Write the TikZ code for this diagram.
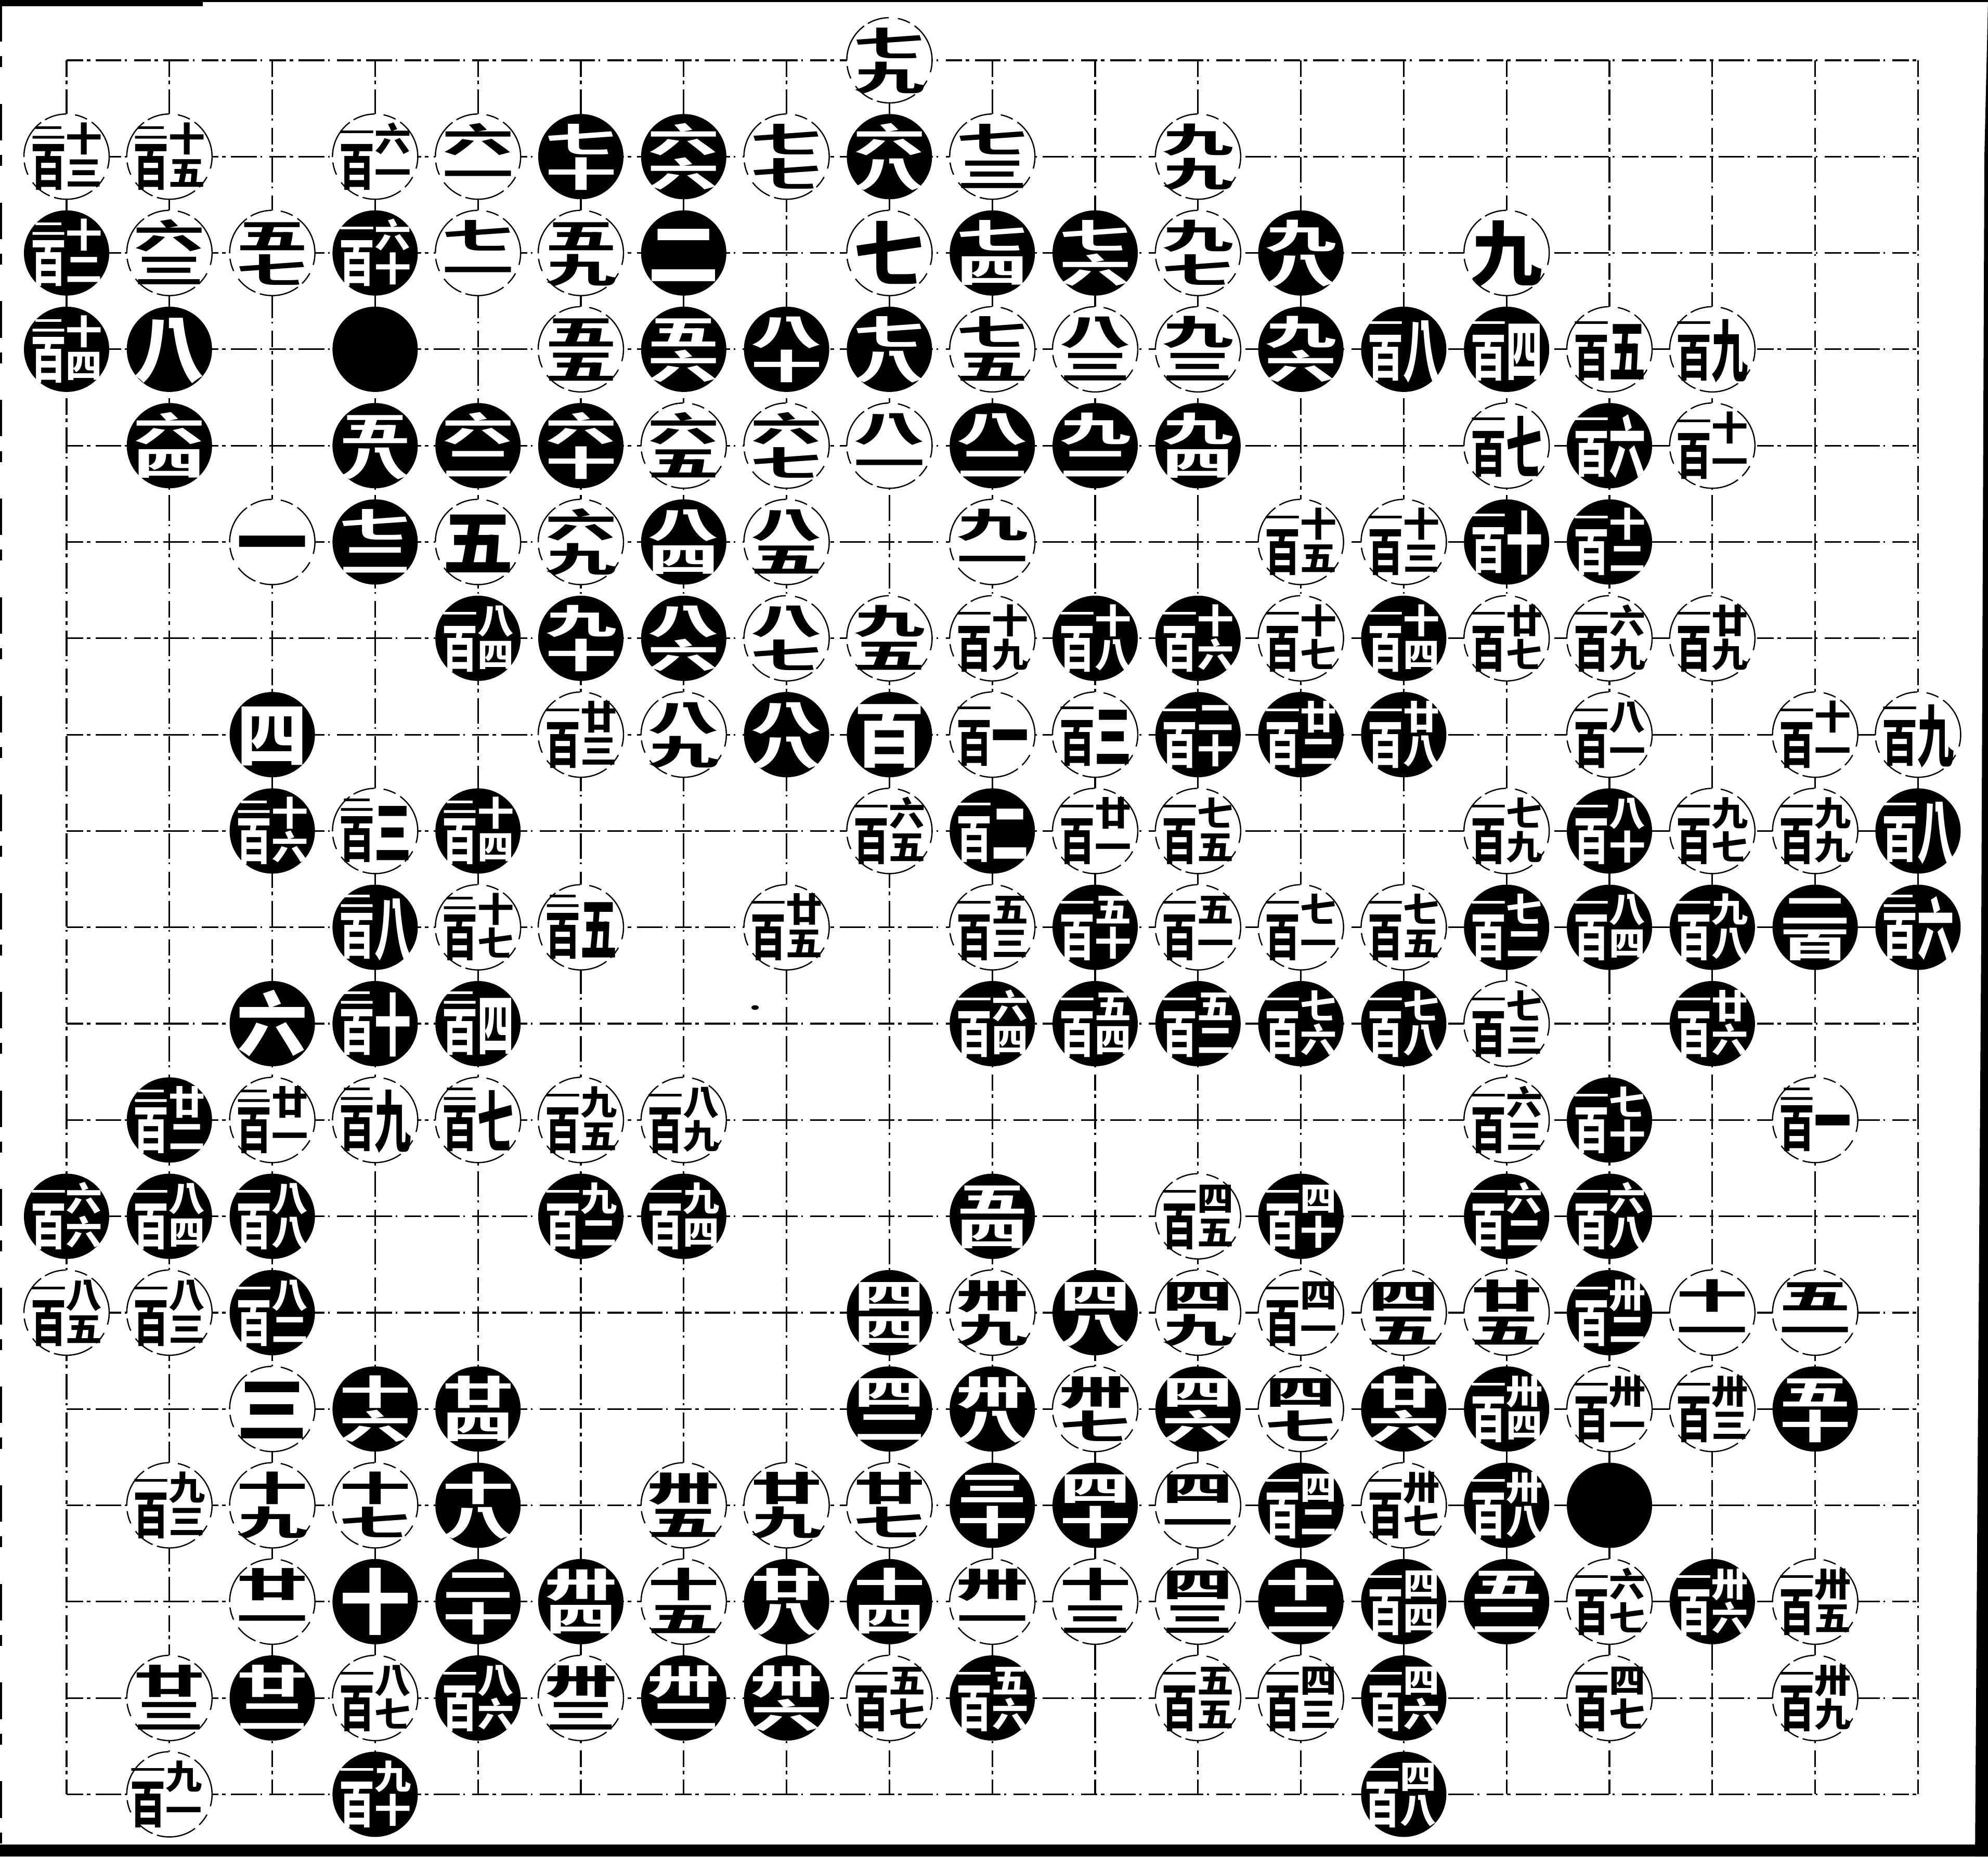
\documentclass[tikz,border=0pt]{standalone}
\usepackage{fontspec}
\usepackage{graphicx}
\newfontfamily\cjk{Noto Sans CJK TC}
% stacked numerals, built from stretched glyphs
\newcommand{\gly}[3]{\resizebox*{#1}{#2}{\cjk\bfseries\rule[-.12em]{0pt}{1em}#3}}
\newcommand{\one}[1]{\gly{1.36cm}{1.36cm}{#1}}
\newcommand{\tw}[2]{\vbox{\hbox{\gly{1.36cm}{.66cm}{#1}}\nointerlineskip\hbox{\gly{1.36cm}{.66cm}{#2}}}}
\newcommand{\hund}[3]{\hbox{\vbox{\hbox{\gly{.68cm}{.32cm}{#1}}\nointerlineskip\hbox{\gly{.68cm}{.98cm}{百}}}\vbox{\hbox{\gly{.7cm}{.65cm}{#2}}\nointerlineskip\hbox{\gly{.7cm}{.65cm}{#3}}}}}
\newcommand{\hun}[2]{\hbox{\vbox{\hbox{\gly{.68cm}{.32cm}{#1}}\nointerlineskip\hbox{\gly{.68cm}{.98cm}{百}}}\gly{.7cm}{1.3cm}{#2}}}
\tikzset{
  stone/.style={circle, minimum size=1.64cm, inner sep=-.4cm, align=center},
  wstone/.style={stone, draw=black, fill=white, text=black, line width=.7pt, dash pattern=on 22pt off 3pt on 7pt off 5pt on 12pt off 2.5pt},
  bstone/.style={stone, fill=black, text=white},
  gridline/.style={line width=.9pt, dash pattern=on 9pt off 2pt on 2pt off 3pt on 14pt off 2pt on 1pt off 4pt},
}
\begin{document}
\begin{tikzpicture}
  \useasboundingbox (0,0) rectangle (38.23,-35.71);
  % edge of the page
  \fill (0,0) rectangle (3.9,-.12);
  \fill (0,0) rectangle (38.23,-.04);
  \fill (0,-35.48) rectangle (38.23,-35.71);
  \fill (38.23,0) -- (38.16,-3) -- (38.1,-17.9) -- (37.98,-35.71) -- (38.23,-35.71) -- cycle;
  \draw[line width=.9pt, dash pattern=on 20pt off 8pt on 6pt off 20pt] (.02,-.1) -- (.02,-35.5);
  \fill (14.52,-19.38) ellipse (.07 and .045);
  \begin{scope}[shift={(-.698,.693)}, x=1.978cm, y=-1.853cm]
    % the board
    \foreach \i in {1,...,19} {
      \draw[gridline] (\i,1) -- (\i,19);
      \draw[gridline] (1,\i) -- (19,\i);
    }
    % white stones
    \foreach \c/\r/\t in {
      9/1/{\tw{七}{九}},
      1/2/{\hund{二}{十}{三}}, 2/2/{\hund{二}{十}{五}}, 4/2/{\hund{一}{六}{一}}, 5/2/{\tw{六}{一}}, 8/2/{\tw{七}{七}}, 10/2/{\tw{七}{三}}, 12/2/{\tw{九}{九}},
      2/3/{\tw{六}{三}}, 3/3/{\tw{五}{七}}, 5/3/{\tw{七}{一}}, 6/3/{\tw{五}{九}}, 9/3/{\one{七}}, 12/3/{\tw{九}{七}}, 15/3/{\one{九}},
      6/4/{\tw{五}{五}}, 10/4/{\tw{七}{五}}, 11/4/{\tw{八}{三}}, 12/4/{\tw{九}{三}}, 16/4/{\hun{一}{五}}, 17/4/{\hun{一}{九}},
      7/5/{\tw{六}{五}}, 8/5/{\tw{六}{七}}, 9/5/{\tw{八}{一}}, 15/5/{\hun{一}{七}}, 17/5/{\hund{一}{十}{一}},
      3/6/{\one{一}}, 5/6/{\one{五}}, 6/6/{\tw{六}{九}}, 8/6/{\tw{八}{五}}, 10/6/{\tw{九}{一}}, 13/6/{\hund{一}{十}{五}}, 14/6/{\hund{一}{十}{三}},
      8/7/{\tw{八}{七}}, 9/7/{\tw{九}{五}}, 10/7/{\hund{一}{十}{九}}, 13/7/{\hund{一}{十}{七}}, 15/7/{\hund{一}{廿}{七}}, 16/7/{\hund{一}{六}{九}}, 17/7/{\hund{一}{廿}{九}},
      6/8/{\hund{一}{廿}{三}}, 7/8/{\tw{八}{九}}, 10/8/{\hun{一}{一}}, 11/8/{\hun{一}{三}}, 16/8/{\hund{一}{八}{一}}, 18/8/{\hund{一}{十}{一}}, 19/8/{\hun{一}{九}},
      4/9/{\hun{二}{三}}, 9/9/{\hund{一}{六}{五}}, 11/9/{\hund{一}{廿}{一}}, 12/9/{\hund{一}{七}{五}}, 15/9/{\hund{一}{七}{九}}, 17/9/{\hund{一}{九}{七}}, 18/9/{\hund{一}{九}{九}},
      5/10/{\hund{二}{十}{七}}, 6/10/{\hun{二}{五}}, 8/10/{\hund{一}{廿}{五}}, 10/10/{\hund{一}{五}{三}}, 12/10/{\hund{一}{五}{一}}, 13/10/{\hund{一}{七}{一}}, 14/10/{\hund{一}{七}{五}},
      15/11/{\hund{一}{七}{三}},
      3/12/{\hund{二}{廿}{一}}, 4/12/{\hun{二}{九}}, 5/12/{\hun{二}{七}}, 6/12/{\hund{一}{九}{五}}, 7/12/{\hund{一}{八}{九}}, 15/12/{\hund{一}{六}{三}}, 18/12/{\hun{二}{一}},
      12/13/{\hund{一}{四}{五}},
      1/14/{\hund{一}{八}{五}}, 2/14/{\hund{一}{八}{三}}, 10/14/{\tw{卅}{九}}, 12/14/{\tw{四}{九}}, 13/14/{\hund{一}{四}{一}}, 14/14/{\tw{四}{五}}, 15/14/{\tw{廿}{五}}, 17/14/{\tw{十}{一}}, 18/14/{\tw{五}{一}},
      3/15/{\one{三}}, 11/15/{\tw{卅}{七}}, 13/15/{\tw{四}{七}}, 16/15/{\hund{一}{卅}{一}}, 17/15/{\hund{一}{卅}{三}},
      2/16/{\hund{一}{九}{三}}, 3/16/{\tw{十}{九}}, 4/16/{\tw{十}{七}}, 7/16/{\tw{卅}{五}}, 8/16/{\tw{廿}{九}}, 9/16/{\tw{廿}{七}}, 12/16/{\tw{四}{一}}, 14/16/{\hund{一}{卅}{七}},
      3/17/{\tw{廿}{一}}, 7/17/{\tw{十}{五}}, 10/17/{\tw{卅}{一}}, 11/17/{\tw{十}{三}}, 12/17/{\tw{四}{三}}, 16/17/{\hund{一}{六}{七}}, 18/17/{\hund{一}{卅}{五}},
      2/18/{\tw{廿}{三}}, 4/18/{\hund{一}{八}{七}}, 6/18/{\tw{卅}{三}}, 9/18/{\hund{一}{五}{七}}, 12/18/{\hund{一}{五}{五}}, 13/18/{\hund{一}{四}{三}}, 16/18/{\hund{一}{四}{七}}, 18/18/{\hund{一}{卅}{九}},
      2/19/{\hund{一}{九}{一}}
    } \node[wstone] (w\c-\r) at (\c,\r) {\t};
    % black stones
    \foreach \c/\r/\t in {
      6/2/{\tw{七}{十}}, 7/2/{\tw{六}{六}}, 9/2/{\tw{六}{八}},
      1/3/{\hund{二}{十}{二}}, 4/3/{\hund{一}{六}{十}}, 7/3/{\one{二}}, 10/3/{\tw{七}{四}}, 11/3/{\tw{七}{六}}, 13/3/{\tw{九}{八}},
      1/4/{\hund{二}{十}{四}}, 2/4/{\one{八}}, 4/4/{}, 7/4/{\tw{五}{六}}, 8/4/{\tw{八}{十}}, 9/4/{\tw{七}{八}}, 13/4/{\tw{九}{六}}, 14/4/{\hun{一}{八}}, 15/4/{\hun{一}{四}},
      2/5/{\tw{六}{四}}, 4/5/{\tw{五}{八}}, 5/5/{\tw{六}{二}}, 6/5/{\tw{六}{十}}, 10/5/{\tw{八}{二}}, 11/5/{\tw{九}{二}}, 12/5/{\tw{九}{四}}, 16/5/{\hun{一}{六}},
      4/6/{\tw{七}{二}}, 7/6/{\tw{八}{四}}, 15/6/{\hun{一}{十}}, 16/6/{\hund{一}{十}{二}},
      5/7/{\hund{一}{八}{四}}, 6/7/{\tw{九}{十}}, 7/7/{\tw{八}{六}}, 11/7/{\hund{一}{十}{八}}, 12/7/{\hund{一}{十}{六}}, 14/7/{\hund{一}{十}{四}},
      3/8/{\one{四}}, 8/8/{\tw{八}{八}}, 9/8/{\one{百}}, 12/8/{\hund{一}{二}{十}}, 13/8/{\hund{一}{廿}{二}}, 14/8/{\hund{一}{廿}{八}},
      3/9/{\hund{二}{十}{六}}, 5/9/{\hund{二}{十}{四}}, 10/9/{\hun{一}{二}}, 16/9/{\hund{一}{八}{十}}, 19/9/{\hun{一}{八}},
      4/10/{\hun{二}{八}}, 11/10/{\hund{一}{五}{十}}, 15/10/{\hund{一}{七}{二}}, 16/10/{\hund{一}{八}{四}}, 17/10/{\hund{一}{九}{八}}, 18/10/{\tw{二}{百}}, 19/10/{\hun{二}{六}},
      3/11/{\one{六}}, 4/11/{\hun{二}{十}}, 5/11/{\hun{二}{四}}, 10/11/{\hund{一}{六}{四}}, 11/11/{\hund{一}{五}{四}}, 12/11/{\hund{一}{五}{二}}, 13/11/{\hund{一}{七}{六}}, 14/11/{\hund{一}{七}{八}}, 17/11/{\hund{一}{廿}{六}},
      2/12/{\hund{二}{廿}{二}}, 16/12/{\hund{一}{七}{十}},
      1/13/{\hund{一}{六}{六}}, 2/13/{\hund{一}{八}{四}}, 3/13/{\hund{一}{八}{八}}, 6/13/{\hund{一}{九}{二}}, 7/13/{\hund{一}{九}{四}}, 10/13/{\tw{五}{四}}, 13/13/{\hund{一}{四}{十}}, 15/13/{\hund{一}{六}{二}}, 16/13/{\hund{一}{六}{八}},
      3/14/{\hund{一}{八}{二}}, 9/14/{\tw{四}{四}}, 11/14/{\tw{四}{八}}, 16/14/{\hund{一}{卅}{二}},
      4/15/{\tw{十}{六}}, 5/15/{\tw{廿}{四}}, 9/15/{\tw{四}{二}}, 10/15/{\tw{卅}{八}}, 12/15/{\tw{四}{六}}, 14/15/{\tw{廿}{六}}, 15/15/{\hund{一}{卅}{四}}, 18/15/{\tw{五}{十}},
      5/16/{\tw{十}{八}}, 10/16/{\tw{三}{十}}, 11/16/{\tw{四}{十}}, 13/16/{\hund{一}{四}{二}}, 15/16/{\hund{一}{卅}{八}}, 16/16/{},
      4/17/{\one{十}}, 5/17/{\tw{二}{十}}, 6/17/{\tw{卅}{四}}, 8/17/{\tw{廿}{八}}, 9/17/{\tw{十}{四}}, 13/17/{\tw{十}{二}}, 14/17/{\hund{一}{四}{四}}, 15/17/{\tw{五}{二}}, 17/17/{\hund{一}{卅}{六}},
      3/18/{\tw{廿}{二}}, 5/18/{\hund{一}{八}{六}}, 7/18/{\tw{卅}{二}}, 8/18/{\tw{卅}{六}}, 10/18/{\hund{一}{五}{六}}, 14/18/{\hund{一}{四}{六}},
      4/19/{\hund{一}{九}{十}}, 14/19/{\hund{一}{四}{八}}
    } \node[bstone] (b\c-\r) at (\c,\r) {\t};
  \end{scope}
\end{tikzpicture}
\end{document}
